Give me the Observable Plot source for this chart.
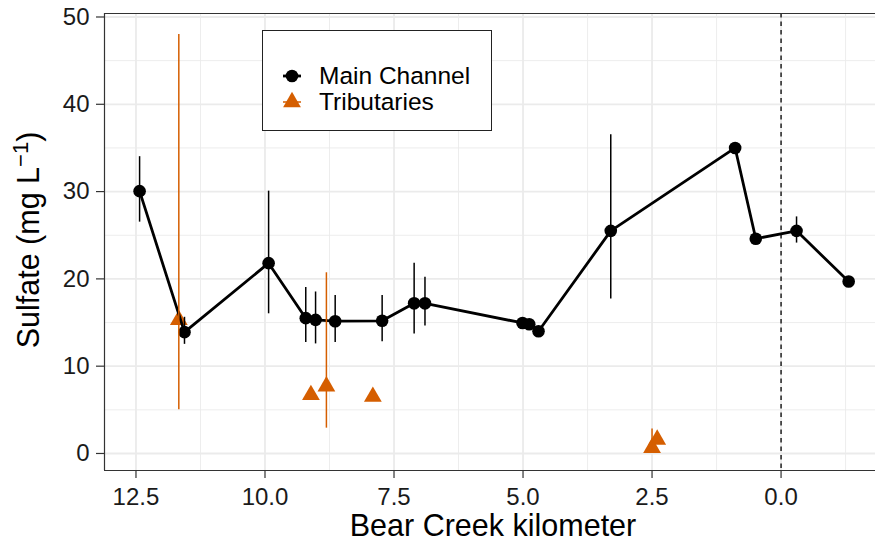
<!DOCTYPE html>
<html>
<head>
<meta charset="utf-8">
<script src="https://cdn.jsdelivr.net/npm/d3@7"></script>
<script src="https://cdn.jsdelivr.net/npm/@observablehq/plot@0.6"></script>
<style>
  html, body { margin: 0; padding: 0; background: #fff; }
  #wrap { position: relative; width: 875px; height: 543px; font-family: "Liberation Sans", Arial, Helvetica, sans-serif; }
  #legend { position: absolute; left: 262px; top: 30px; width: 228px; height: 99px; border: 1.3px solid #222; background: #fff; box-sizing: content-box; }
  .row { position: absolute; left: 0; height: 26px; display: flex; align-items: center; font-size: 24.5px; color: #000; white-space: nowrap; }
  .row svg { margin-left: 16px; margin-right: 14px; }
</style>
</head>
<body>
<div id="wrap"></div>
<script>
// ---- data ----
const mainKm  = [12.43, 11.56, 9.93, 9.21, 9.02, 8.64, 7.73, 7.11, 6.90, 5.01, 4.88, 4.70, 3.30, 0.89, 0.49, -0.30, -1.31];
const mainSO4 = [30.05, 13.9, 21.8, 15.5, 15.3, 15.15, 15.2, 17.2, 17.2, 14.95, 14.8, 14.0, 25.5, 35.0, 24.6, 25.5, 19.7];
const mainLo  = [26.5, 12.5, 16.0, 12.7, 12.55, 12.7, 12.8, 13.7, 14.6, null, null, null, 17.7, null, null, 24.1, null];
const mainHi  = [34.0, 15.6, 30.05, 19.0, 18.5, 18.1, 18.1, 21.8, 20.2, null, null, null, 36.5, null, null, 27.1, null];

const tribKm  = [11.67, 9.11, 8.81, 7.91, 2.50, 2.40];
const tribSO4 = [15.3, 6.7, 7.7, 6.5, 0.65, 1.6];
const tribLo  = [5.0, null, 2.9, null, 0.4, null];
const tribHi  = [48.0, null, 20.7, null, 2.8, null];

const xTicks = [12.5, 10.0, 7.5, 5.0, 2.5, 0.0];
const xMinor = [11.25, 8.75, 6.25, 3.75, 1.25, -1.25];
const yTicks = [0, 10, 20, 30, 40, 50];
const yMinor = [5, 15, 25, 35, 45];
const xDomain = [13.11, -1.83];
const yDomain = [-1.95, 50.4];

const seriesNames = ["Main Channel", "Tributaries"];
const seriesColors = ["#000000", "#D55E00"];
const xTitle = "Bear Creek kilometer";
const yTitle = "Sulfate (mg L⁻¹)";

// ---- build tables ----
const main = mainKm.map((k, i) => ({km: k, v: mainSO4[i], lo: mainLo[i], hi: mainHi[i]}));
const trib = tribKm.map((k, i) => ({km: k, v: tribSO4[i], lo: tribLo[i], hi: tribHi[i]}));
const mainBars = main.filter(d => d.lo != null);
const tribBars = trib.filter(d => d.lo != null);

const font = '"Liberation Sans", Arial, Helvetica, sans-serif';
const gridCol = "#EBEBEB";
const axisCol = "#333333";

const chart = Plot.plot({
  width: 875,
  height: 543,
  marginLeft: 104,
  marginRight: 0,
  marginTop: 13,
  marginBottom: 73,
  style: {fontFamily: font, background: "#fff", color: "#000", overflow: "visible"},
  x: {type: "linear", domain: xDomain},
  y: {type: "linear", domain: yDomain},
  marks: [
    // grid
    Plot.ruleX(xMinor, {stroke: gridCol, strokeWidth: 0.9}),
    Plot.ruleY(yMinor, {stroke: gridCol, strokeWidth: 0.9}),
    Plot.ruleX(xTicks, {stroke: gridCol, strokeWidth: 1.8}),
    Plot.ruleY(yTicks, {stroke: gridCol, strokeWidth: 1.8}),
    // reference line at km 0
    Plot.ruleX([0], {stroke: "#000", strokeWidth: 1.3, strokeDasharray: "4.5,4"}),
    // panel lines
    Plot.ruleX([xDomain[0]], {stroke: axisCol, strokeWidth: 1.2}),
    Plot.ruleY([yDomain[0]], {stroke: axisCol, strokeWidth: 1.2}),
    Plot.ruleY([yDomain[1]], {stroke: axisCol, strokeWidth: 1.2}),
    // axes
    Plot.axisX(xTicks, {tickSize: 8, tickPadding: 9, fontSize: 24, tickFormat: d3.format(".1f"), stroke: axisCol, strokeWidth: 1.2, fill: "#1a1a1a", label: null}),
    Plot.axisY(yTicks, {tickSize: 8, tickPadding: 7, fontSize: 24, stroke: axisCol, strokeWidth: 1.2, fill: "#1a1a1a", label: null}),
    // tributaries points
    Plot.dot(trib, {x: "km", y: "v", symbol: "triangle", r: 6.6, fill: seriesColors[1], stroke: "none"}),
    // main channel
    Plot.ruleX(mainBars, {x: "km", y1: "lo", y2: "hi", stroke: seriesColors[0], strokeWidth: 1.5}),
    Plot.line(main, {x: "km", y: "v", stroke: seriesColors[0], strokeWidth: 2.8, strokeLinejoin: "round"}),
    Plot.dot(main, {x: "km", y: "v", r: 6.3, fill: seriesColors[0], stroke: "none"}),
    // tributary error bars
    Plot.ruleX(tribBars, {x: "km", y1: "lo", y2: "hi", stroke: seriesColors[1], strokeWidth: 1.5}),
    // titles
    Plot.text([xTitle], {text: d => d, frameAnchor: "bottom", lineAnchor: "middle", textAnchor: "middle", dy: 56, dx: 3, fontSize: 30.5, fill: "#000"}),
    Plot.text([yTitle], {text: d => d, frameAnchor: "left", lineAnchor: "middle", textAnchor: "middle", rotate: -90, dx: -75, dy: -2, fontSize: 30.5, fill: "#000"})
  ]
});

// superscript for the y title
d3.select(chart).selectAll("text").filter(function() { return this.textContent === yTitle; }).each(function() {
  const t = d3.select(this);
  t.text(null);
  t.append("tspan").text("Sulfate (mg L");
  t.append("tspan").attr("dy", "-11").attr("font-size", "22").text("−1");
  t.append("tspan").attr("dy", "11").text(")");
});

const wrap = document.getElementById("wrap");
wrap.appendChild(chart);

// legend
const legend = document.createElement("div");
legend.id = "legend";
const rowsY = [32, 58];
seriesNames.forEach((name, i) => {
  const row = document.createElement("div");
  row.className = "row";
  row.style.top = rowsY[i] + "px";
  const ns = "http://www.w3.org/2000/svg";
  const s = document.createElementNS(ns, "svg");
  s.setAttribute("width", "26"); s.setAttribute("height", "26");
  const ln = document.createElementNS(ns, "line");
  ln.setAttribute("x1", "4"); ln.setAttribute("x2", "22");
  ln.setAttribute("y1", "13"); ln.setAttribute("y2", "13");
  ln.setAttribute("stroke", seriesColors[i]);
  ln.setAttribute("stroke-width", i === 0 ? "2.8" : "1.5");
  s.appendChild(ln);
  if (i === 0) {
    const c = document.createElementNS(ns, "circle");
    c.setAttribute("cx", "13"); c.setAttribute("cy", "13"); c.setAttribute("r", "6.3");
    c.setAttribute("fill", seriesColors[0]);
    s.appendChild(c);
  } else {
    const p = document.createElementNS(ns, "path");
    p.setAttribute("d", d3.symbol(d3.symbolTriangle, Math.PI * 6.6 * 6.6)());
    p.setAttribute("transform", "translate(13,13)");
    p.setAttribute("fill", seriesColors[1]);
    s.appendChild(p);
  }
  row.appendChild(s);
  const span = document.createElement("span");
  span.textContent = name;
  row.appendChild(span);
  legend.appendChild(row);
});
wrap.appendChild(legend);
</script>
</body>
</html>
